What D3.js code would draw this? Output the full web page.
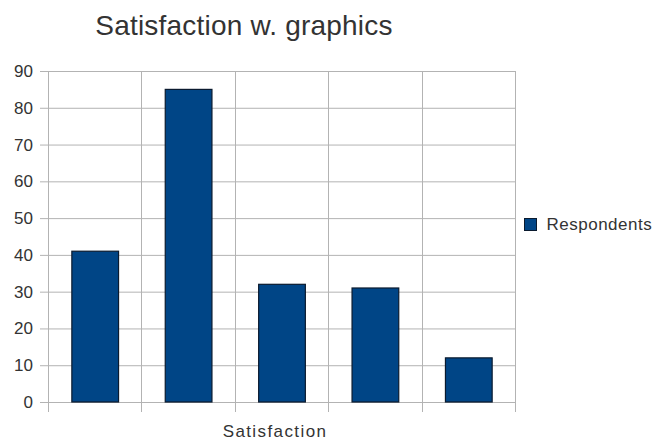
<!DOCTYPE html>
<html>
<head>
<meta charset="utf-8">
<script src="https://cdn.jsdelivr.net/npm/d3@7"></script>
<style>
  body { margin: 0; background: #fff; }
  text { font-family: "Liberation Sans", Arial, sans-serif; }
</style>
</head>
<body>
<div id="chart"></div>
<script>
var categories = ["1", "2", "3", "4", "5"];
var respondents = [41, 85, 32, 31, 12];
var yTicks = [0, 10, 20, 30, 40, 50, 60, 70, 80, 90];
var seriesName = "Respondents";

var svgWidth = 652;
var svgHeight = 441;
var margin = { top: 71, right: 137, bottom: 39, left: 48 };
var width = svgWidth - margin.left - margin.right;
var height = svgHeight - margin.top - margin.bottom;

var svg = d3.select("#chart")
  .append("svg")
  .attr("width", svgWidth)
  .attr("height", svgHeight);

var chartGroup = svg.append("g")
  .attr("transform", `translate(${margin.left}, ${margin.top})`);

var xScale = d3.scaleBand()
  .domain(categories)
  .range([0, width])
  .paddingInner(0)
  .paddingOuter(0);

var yScale = d3.scaleLinear()
  .domain([0, 90])
  .range([height, 0]);

// horizontal grid + ticks on the left
var yAxis = d3.axisLeft(yScale)
  .tickValues(yTicks)
  .tickSize(-width - 8)
  .tickPadding(7);

var yG = chartGroup.append("g")
  .attr("transform", "translate(-8,0)")
  .call(yAxis);
yG.select(".domain").remove();
yG.selectAll(".tick line")
  .attr("x1", 0)
  .attr("x2", width + 8)
  .attr("stroke", "#b3b3b3")
  .attr("stroke-width", 1);
yG.selectAll(".tick text")
  .attr("x", -7)
  .attr("font-size", 17)
  .attr("fill", "#333");

// vertical grid lines at band edges, running past the bottom
var edges = categories.map(function(c) { return xScale(c); }).concat([width]);
chartGroup.append("g").selectAll("line")
  .data(edges)
  .enter()
  .append("line")
  .attr("x1", d => Math.round(d) + 0.5)
  .attr("x2", d => Math.round(d) + 0.5)
  .attr("y1", 0)
  .attr("y2", height + 10)
  .attr("stroke", "#b3b3b3")
  .attr("stroke-width", 1);

// bars
var barW = xScale.bandwidth() / 2;
chartGroup.selectAll("rect.bar")
  .data(respondents)
  .enter()
  .append("rect")
  .attr("class", "bar")
  .attr("x", (d, i) => xScale(categories[i]) + xScale.bandwidth() / 4 + 0.5)
  .attr("y", d => yScale(d))
  .attr("width", barW)
  .attr("height", d => height - yScale(d))
  .attr("fill", "#004586")
  .attr("stroke", "#0a1a2e")
  .attr("stroke-width", 1.2);

// title
svg.append("text")
  .attr("x", 244)
  .attr("y", 35)
  .attr("text-anchor", "middle")
  .attr("font-size", 28)
  .attr("letter-spacing", 0.2)
  .attr("fill", "#333")
  .text("Satisfaction w. graphics");

// x axis label
svg.append("text")
  .attr("x", 275)
  .attr("y", 437)
  .attr("text-anchor", "middle")
  .attr("font-size", 17)
  .attr("letter-spacing", 1.4)
  .attr("fill", "#333")
  .text("Satisfaction");

// legend
var legend = svg.append("g")
  .attr("transform", "translate(524.5, 218.5)");
legend.append("rect")
  .attr("width", 12)
  .attr("height", 12)
  .attr("fill", "#004586")
  .attr("stroke", "#0a1a2e")
  .attr("stroke-width", 1);
legend.append("text")
  .attr("x", 22)
  .attr("y", 11.5)
  .attr("font-size", 17)
  .attr("letter-spacing", 0.5)
  .attr("fill", "#333")
  .text(seriesName);
</script>
</body>
</html>
